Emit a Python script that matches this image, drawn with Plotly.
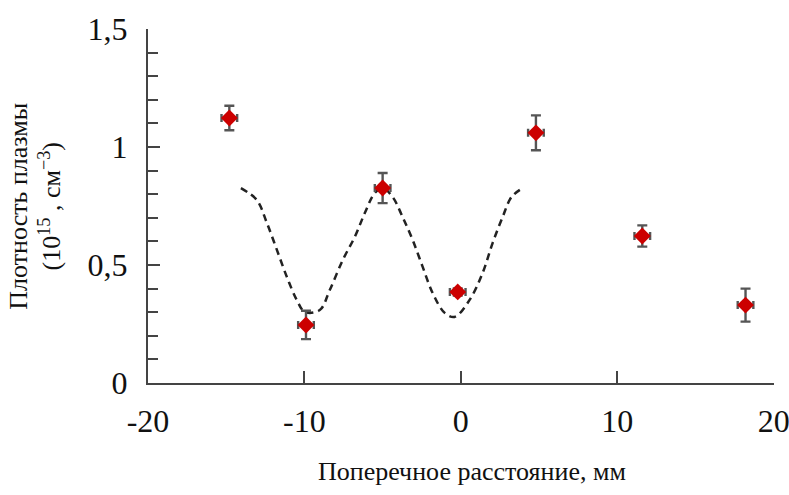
import plotly.graph_objects as go

# Measured points (transverse distance, mm ; plasma density, 10^15 cm^-3)
x_pts = [-14.8, -9.9, -5.0, -0.2, 4.8, 11.6, 18.2]
y_pts = [1.123, 0.246, 0.826, 0.386, 1.06, 0.623, 0.33]
y_err = [0.052, 0.06, 0.064, 0.015, 0.074, 0.045, 0.07]
x_err = [0.5, 0.5, 0.5, 0.5, 0.5, 0.5, 0.5]

# Dashed curve
x_curve = [-14.06, -13.04, -12.40, -11.76, -11.12, -10.49, -9.97, -9.02, -8.38, -7.55,
           -6.78, -6.14, -5.50, -4.99, -4.36, -3.72, -3.08, -2.44, -1.80, -1.03,
           -0.40, 0.56, 1.39, 2.03, 2.67, 3.24, 3.95]
y_curve = [0.826, 0.775, 0.678, 0.564, 0.449, 0.352, 0.301, 0.309, 0.394, 0.521,
           0.619, 0.720, 0.805, 0.826, 0.788, 0.703, 0.606, 0.492, 0.381, 0.297,
           0.280, 0.352, 0.466, 0.593, 0.703, 0.788, 0.826]

x_ticks = [-20, -10, 0, 10, 20]
x_ticktext = ["-20", "-10", "0", "10", "20"]
y_ticks = [0, 0.5, 1, 1.5]
y_ticktext = ["0", "0,5", "1", "1,5"]

x_title = "Поперечное расстояние, мм"
y_title = "Плотность плазмы<br>(10<sup>15</sup> , см<sup>−3</sup>)"

FONT = "Liberation Serif, Times New Roman, DejaVu Serif, serif"
AX = "#444444"

fig = go.Figure()
fig.add_trace(go.Scatter(
    x=x_curve, y=y_curve, mode="lines",
    line=dict(color="#222222", width=2.5, dash="7px,5px", shape="spline"),
    hoverinfo="skip", showlegend=False))
fig.add_trace(go.Scatter(
    x=x_pts, y=y_pts, mode="markers",
    marker=dict(symbol="diamond", size=13, color="#cc0000", line=dict(width=0)),
    error_y=dict(type="data", array=y_err, visible=True, color="#555555", thickness=2.4, width=5),
    error_x=dict(type="data", array=x_err, visible=True, color="#555555", thickness=2.4, width=4),
    showlegend=False))

fig.update_layout(
    width=789, height=495,
    margin=dict(l=148, r=14.5, t=29, b=112, autoexpand=False),
    paper_bgcolor="white", plot_bgcolor="white",
    font=dict(family=FONT, color="#111111"),
    showlegend=False,
    xaxis=dict(
        range=[-20, 20.02], showgrid=False, zeroline=False,
        showline=True, linecolor=AX, linewidth=2,
        ticks="inside", ticklen=12, tickwidth=2, tickcolor=AX,
        tickvals=x_ticks, ticktext=x_ticktext,
        tickfont=dict(family=FONT, size=32, color="#111111"),
        ticklabelstandoff=9, ticklabeloverflow="allow", automargin=False,
    ),
    yaxis=dict(
        range=[0, 1.5], showgrid=False, zeroline=False,
        showline=True, linecolor=AX, linewidth=2,
        ticks="inside", ticklen=12, tickwidth=2, tickcolor=AX,
        tickvals=y_ticks, ticktext=y_ticktext,
        tickfont=dict(family=FONT, size=32, color="#111111"),
        ticklabelstandoff=12, automargin=False,
        minor=dict(dtick=0.1, ticks="inside", ticklen=10, tickwidth=2, tickcolor=AX, showgrid=False),
    ),
    annotations=[
        dict(text=x_title, xref="paper", yref="paper", x=0.517, y=-0.251,
             xanchor="center", yanchor="middle", showarrow=False,
             font=dict(family=FONT, size=26, color="#111111")),
        dict(text=y_title, xref="paper", yref="paper", x=-0.181, y=0.5,
             xanchor="center", yanchor="middle", showarrow=False, textangle=-90,
             font=dict(family=FONT, size=26, color="#111111")),
    ],
)

fig.write_html("out.html", config={"displayModeBar": False})
